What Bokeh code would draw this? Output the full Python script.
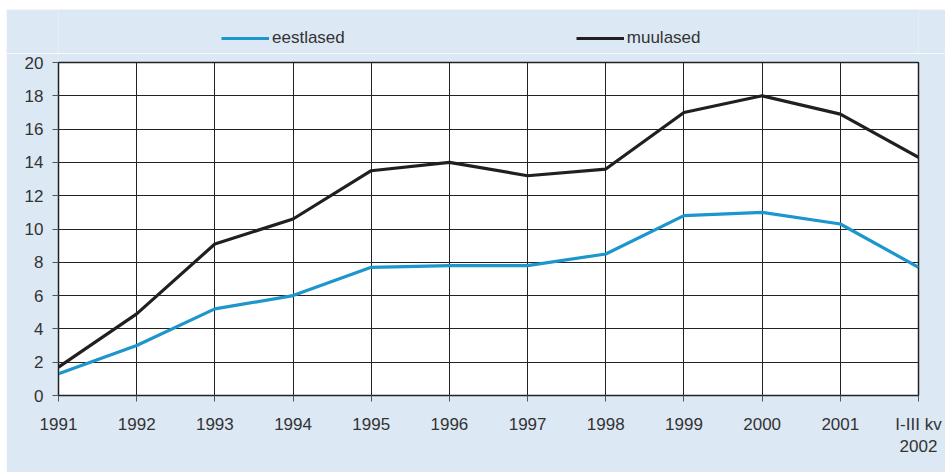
from bokeh.plotting import figure
from bokeh.models import FixedTicker, Legend, LegendItem, Range1d, Spacer
from bokeh.layouts import column, row
from bokeh.embed import file_html
from bokeh.resources import INLINE

years = ["1991", "1992", "1993", "1994", "1995", "1996", "1997", "1998",
         "1999", "2000", "2001", "I-III kv\n2002"]
eestlased = [1.3, 3.0, 5.2, 6.0, 7.7, 7.8, 7.8, 8.5, 10.8, 11.0, 10.3, 7.7]
muulased = [1.7, 4.9, 9.1, 10.6, 13.5, 14.0, 13.2, 13.6, 17.0, 18.0, 16.9, 14.3]
y_ticks = [0, 2, 4, 6, 8, 10, 12, 14, 16, 18, 20]
series_names = ["eestlased", "muulased"]
series_colors = ["#1d95cd", "#231f20"]

xs = list(range(len(years)))
BG = "#dce8f3"
FONT = "Liberation Sans"
LEG_H = 44

# ---- main chart ----
p = figure(width=939, height=463 - LEG_H, output_backend="svg", toolbar_location=None,
           x_range=Range1d(0, len(years) - 1), y_range=Range1d(0, 20),
           background_fill_color="white", border_fill_color=BG,
           min_border_left=52, min_border_right=27, min_border_top=9,
           min_border_bottom=77, outline_line_color="#222222", outline_line_width=1.5)

p.line(xs, eestlased, line_color=series_colors[0], line_width=3.2)
p.line(xs, muulased, line_color=series_colors[1], line_width=3.2)

for ax in (p.xaxis[0], p.yaxis[0]):
    ax.axis_line_color = "#222222"
    ax.major_tick_line_color = "#555555"
    ax.minor_tick_line_color = None
    ax.major_tick_in = 0
    ax.major_tick_out = 6
    ax.major_label_text_font = FONT
    ax.major_label_text_font_size = "17px"
    ax.major_label_text_color = "#333333"

p.xaxis.ticker = FixedTicker(ticks=xs)
p.xaxis.major_label_overrides = {i: lab for i, lab in enumerate(years)}
p.xaxis.major_label_standoff = 13
p.yaxis.ticker = FixedTicker(ticks=y_ticks)
p.yaxis.major_label_standoff = 9

p.xgrid.grid_line_color = "#222222"
p.ygrid.grid_line_color = "#222222"
p.xgrid.grid_line_width = 1
p.ygrid.grid_line_width = 1
p.xgrid.ticker = FixedTicker(ticks=xs)
p.ygrid.ticker = FixedTicker(ticks=y_ticks)

# ---- legend strip (same series, drawn out of view, legend only) ----
lg = figure(width=939, height=LEG_H, output_backend="svg", toolbar_location=None,
            x_range=Range1d(0, 1), y_range=Range1d(1000, 1001),
            background_fill_color=BG, border_fill_color=BG, outline_line_color=None,
            min_border=0, min_border_left=0, min_border_right=0,
            min_border_top=0, min_border_bottom=0)
lg.axis.visible = False
lg.grid.visible = False
l1 = lg.line(xs, eestlased, line_color=series_colors[0], line_width=3.2)
l2 = lg.line(xs, muulased, line_color=series_colors[1], line_width=3.2)

legend = Legend(items=[LegendItem(label=series_names[0], renderers=[l1]),
                       LegendItem(label=series_names[1], renderers=[l2])],
                orientation="horizontal", location=(163, 5),
                background_fill_alpha=0, border_line_alpha=0,
                padding=0, margin=0, spacing=231, label_standoff=3,
                glyph_width=48, glyph_height=18, label_height=18,
                label_text_font=FONT, label_text_font_size="17px",
                label_text_color="#333333")
lg.add_layout(legend, "center")

layout = column(Spacer(height=9), row(Spacer(width=6), column(lg, p, spacing=0)),
                spacing=0)
open("out.html", "w").write(file_html(layout, INLINE))
